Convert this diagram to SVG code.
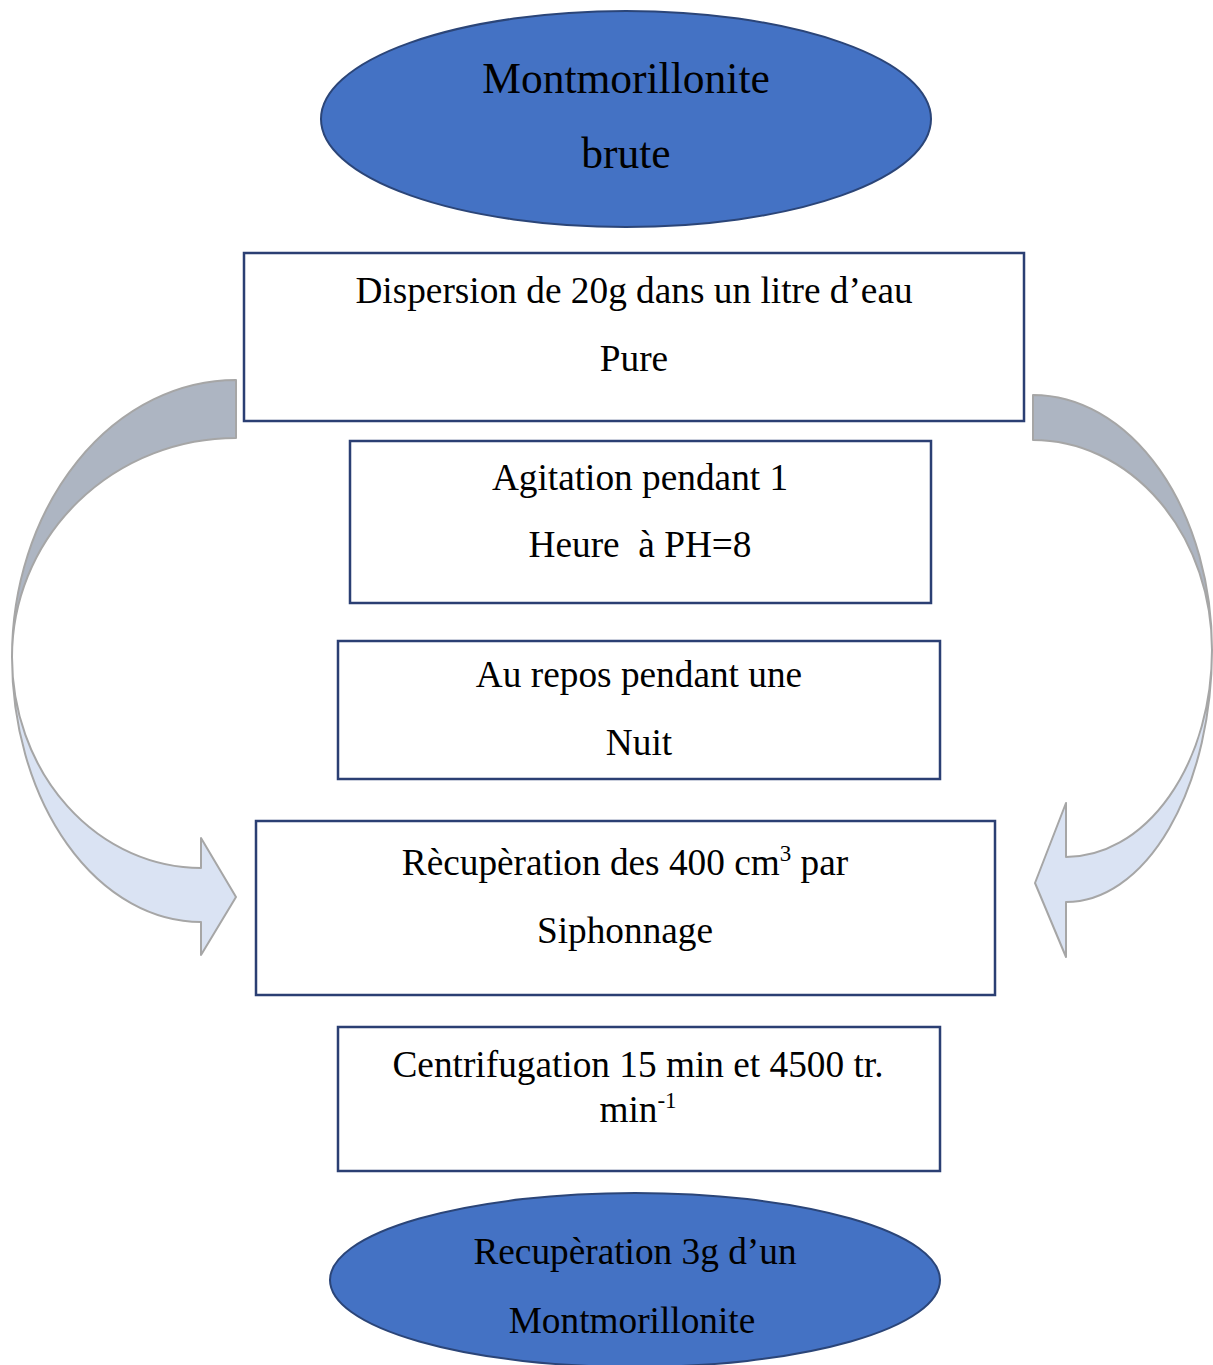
<svg xmlns="http://www.w3.org/2000/svg" width="1213" height="1365" viewBox="0 0 1213 1365">
  <style>
    .box { fill: #ffffff; stroke: #2B3F73; stroke-width: 2.5; }
    .oval { fill: #4472C4; stroke: #2B4578; stroke-width: 2; }
    .back { fill: #ADB5C2; stroke: #A6A6A6; stroke-width: 2; stroke-linejoin: round; }
    .front { fill: #DAE3F3; stroke: #A6A6A6; stroke-width: 2; stroke-linejoin: round; }
    text { font-family: "Liberation Serif", "Times New Roman", serif; fill: #000; text-anchor: middle; }
    .t { font-size: 37.3px; }
    .big { font-size: 43.5px; }
    .sup { font-size: 23px; }
  </style>
  <rect width="1213" height="1365" fill="#ffffff"/>

  <!-- curved return arrows -->
  <g id="connectors">
    <!-- left arrow: back fold then front band with head -->
    <path class="back" d="M236,380 A224,277 0 0 0 12,657 A224,219 0 0 1 236,438 Z"/>
    <path class="front" d="M12,657 A189,265 0 0 0 201,922 L201,955 L236,897 L201,838 L201,868 A189,211 0 0 1 12,657 Z"/>
    <!-- right arrow -->
    <path class="back" d="M1033,395 A179,255 0 0 1 1212,650 A179,210 0 0 0 1033,440 Z"/>
    <path class="front" d="M1212,650 A146,252 0 0 1 1066,902 L1066,957 L1035,883 L1066,803 L1066,857 A146,207 0 0 0 1212,650 Z"/>
  </g>

  <g id="start">
    <ellipse class="oval" cx="626" cy="119" rx="305" ry="108"/>
    <text class="big" x="626" y="93">Montmorillonite</text>
    <text class="big" x="626" y="168">brute</text>
  </g>

  <g id="dispersion">
    <rect class="box" x="244" y="253" width="780" height="168"/>
    <text class="t" x="634" y="303">Dispersion de 20g dans un litre d’eau</text>
    <text class="t" x="634" y="371">Pure</text>
  </g>

  <g id="agitation">
    <rect class="box" x="350" y="441" width="581" height="162"/>
    <text class="t" x="640" y="490">Agitation pendant 1</text>
    <text class="t" x="640" y="557" xml:space="preserve">Heure  à PH=8</text>
  </g>

  <g id="repos">
    <rect class="box" x="338" y="641" width="602" height="138"/>
    <text class="t" x="639" y="687">Au repos pendant une</text>
    <text class="t" x="639" y="755">Nuit</text>
  </g>

  <g id="siphonnage">
    <rect class="box" x="256" y="821" width="739" height="174"/>
    <text class="t" x="625" y="875">Rècupèration des 400 cm<tspan class="sup" dy="-14">3</tspan><tspan dy="14"> par</tspan></text>
    <text class="t" x="625" y="943">Siphonnage</text>
  </g>

  <g id="centrifugation">
    <rect class="box" x="338" y="1027" width="602" height="144"/>
    <text class="t" x="638" y="1077">Centrifugation 15 min et 4500 tr.</text>
    <text class="t" x="638" y="1122">min<tspan class="sup" dy="-14">-1</tspan></text>
  </g>

  <g id="result">
    <ellipse class="oval" cx="635" cy="1280" rx="305" ry="87"/>
    <text class="t" x="635" y="1264">Recupèration 3g d’un</text>
    <text class="t" x="632" y="1333">Montmorillonite</text>
  </g>
</svg>
